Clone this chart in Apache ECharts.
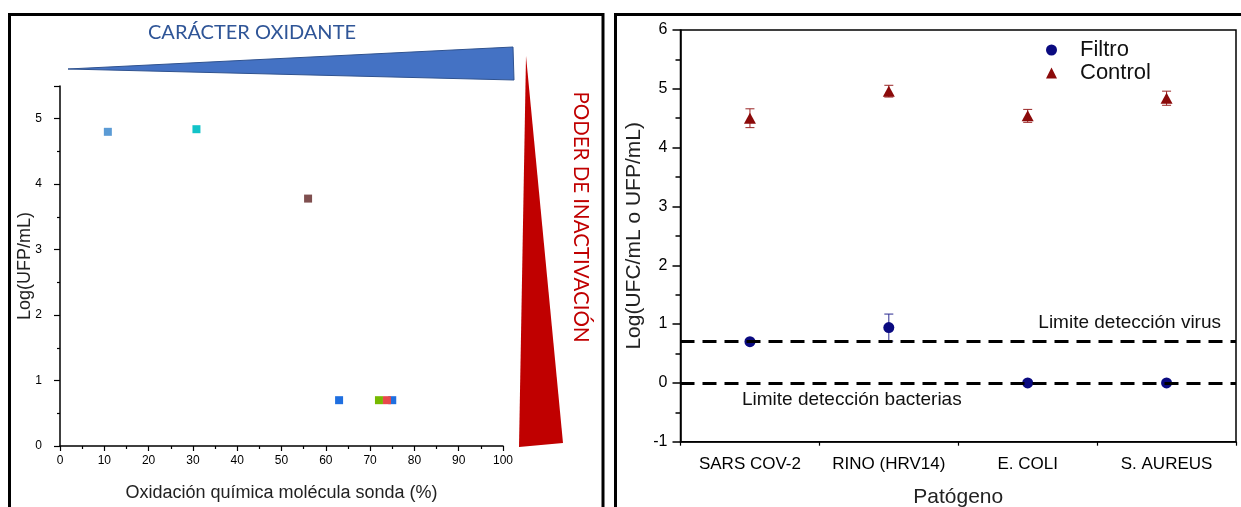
<!DOCTYPE html>
<html><head><meta charset="utf-8">
<script src="https://cdn.jsdelivr.net/npm/echarts@6/dist/echarts.min.js"></script>
<style>html,body{margin:0;padding:0;background:#fff}#c{width:1241px;height:507px}</style>
</head><body><div id="c"></div>
<script>
// ---- Left panel data ----
const leftX = [10.8, 30.8, 56.0, 75.0, 63.0, 72.0, 73.8];
const leftY = [4.80, 4.84, 3.78, 0.70, 0.70, 0.70, 0.70];
const leftColors = ['#5b9bd5', '#12c3c8', '#7f4f4f', '#1f6fe0', '#1f6fe0', '#76b900', '#e8484c'];
const leftXTicks = [0, 100, 10];
const leftYTicks = [0, 5.5, 1];

// ---- Right panel data ----
const categories = ['SARS COV-2', 'RINO (HRV14)', 'E. COLI', 'S. AUREUS'];
const filtroValues = [0.70, 0.94, 0.00, 0.00];
const filtroErrors = [0.00, 0.23, 0.00, 0.00];
const controlValues = [4.50, 4.96, 4.54, 4.84];
const controlErrors = [0.16, 0.10, 0.11, 0.12];
const limitVirus = 0.7;
const limitBacteria = 0;
const rightYTicks = [-1, 6, 1];

const F = '"Liberation Sans", Arial, sans-serif';
const chart = echarts.init(document.getElementById('c'));

function errItem(color) {
  return function (params, api) {
    const x = api.value(0), y = api.value(1), e = api.value(2);
    if (!e) return null;
    const t = api.coord([x, y + e]), b = api.coord([x, y - e]);
    const hw = 4.5;
    const st = { stroke: color, lineWidth: 1 };
    return { type: 'group', children: [
      { type: 'line', shape: { x1: t[0], y1: t[1], x2: b[0], y2: b[1] }, style: st },
      { type: 'line', shape: { x1: t[0] - hw, y1: t[1], x2: t[0] + hw, y2: t[1] }, style: st },
      { type: 'line', shape: { x1: b[0] - hw, y1: b[1], x2: b[0] + hw, y2: b[1] }, style: st }
    ]};
  };
}

const axisBase = {
  axisLine: { onZero: false, lineStyle: { color: '#000', width: 1.5 } },
  splitLine: { show: false },
  nameMoveOverlap: false
};

const option = {
  animation: false,
  grid: [
    { left: 60, top: 86, width: 443, height: 360, containLabel: false, outerBoundsMode: 'none' },
    { left: 680.5, top: 30, width: 555.5, height: 411.7, containLabel: false, outerBoundsMode: 'none',
      show: true, borderColor: '#000', borderWidth: 1.5 }
  ],
  xAxis: [
    Object.assign({}, axisBase, {
      gridIndex: 0, type: 'value', min: leftXTicks[0], max: leftXTicks[1], interval: leftXTicks[2], position: 'bottom',
      axisTick: { length: 5, lineStyle: { color: '#000', width: 1.2 } },
      minorTick: { show: true, splitNumber: 2, length: 3, lineStyle: { color: '#000', width: 1.2 } },
      axisLabel: { color: '#000', fontSize: 12, fontFamily: F, margin: 9 },
      name: 'Oxidación química molécula sonda (%)', nameLocation: 'middle', nameGap: 38,
      nameTextStyle: { fontSize: 18, color: '#222', fontFamily: F }
    }),
    Object.assign({}, axisBase, {
      gridIndex: 1, type: 'category', data: categories, boundaryGap: true, position: 'bottom',
      axisTick: { alignWithLabel: true, length: 6, lineStyle: { color: '#000', width: 1.2 } },
      axisLabel: { color: '#000', fontSize: 17, fontFamily: F, margin: 14, interval: 0 },
      name: 'Patógeno', nameLocation: 'middle', nameGap: 45,
      nameTextStyle: { fontSize: 21, color: '#222', fontFamily: F }
    }),
    Object.assign({}, axisBase, {
      gridIndex: 1, type: 'value', min: 0, max: categories.length, interval: 1, position: 'bottom',
      axisLine: { show: false, onZero: false },
      axisTick: { length: 4, lineStyle: { color: '#000', width: 1.2 } },
      axisLabel: { show: false }
    })
  ],
  yAxis: [
    Object.assign({}, axisBase, {
      gridIndex: 0, type: 'value', min: leftYTicks[0], max: leftYTicks[1], interval: leftYTicks[2],
      axisTick: { length: 6, lineStyle: { color: '#000', width: 1.2 } },
      minorTick: { show: true, splitNumber: 2, length: 3, lineStyle: { color: '#000', width: 1.2 } },
      axisLabel: { color: '#000', fontSize: 12, fontFamily: F, margin: 18, showMaxLabel: false },
      name: 'Log(UFP/mL)', nameLocation: 'middle', nameGap: 26,
      nameTextStyle: { fontSize: 18, color: '#222', fontFamily: F }
    }),
    Object.assign({}, axisBase, {
      gridIndex: 1, type: 'value', min: rightYTicks[0], max: rightYTicks[1], interval: rightYTicks[2],
      axisTick: { length: 8, lineStyle: { color: '#000', width: 1.5 } },
      minorTick: { show: true, splitNumber: 2, length: 5, lineStyle: { color: '#000', width: 1.5 } },
      axisLabel: { color: '#000', fontSize: 16, fontFamily: F, margin: 13 },
      name: 'Log(UFC/mL o UFP/mL)', nameLocation: 'middle', nameGap: 36,
      nameTextStyle: { fontSize: 21, color: '#222', fontFamily: F }
    })
  ],
  legend: {
    data: [{ name: 'Filtro', icon: 'circle' }, { name: 'Control', icon: 'triangle' }],
    orient: 'vertical', left: 1041, top: 34, itemWidth: 11, itemHeight: 11, itemGap: 1,
    textStyle: { fontSize: 22, fontFamily: F, color: '#111', padding: [0, 0, 0, 18] }
  },
  series: [
    {
      type: 'scatter', xAxisIndex: 0, yAxisIndex: 0, symbol: 'rect', symbolSize: 8, silent: true,
      data: leftX.map((x, i) => ({ value: [x, leftY[i]], itemStyle: { color: leftColors[i], opacity: 1 } }))
    },
    {
      type: 'custom', name: 'errF', xAxisIndex: 1, yAxisIndex: 1, z: 1,
      renderItem: errItem('#2a2a90'),
      data: categories.map((c, i) => [i, filtroValues[i], filtroErrors[i]])
    },
    {
      type: 'custom', name: 'errC', xAxisIndex: 1, yAxisIndex: 1, z: 1,
      renderItem: errItem('#9a2525'),
      data: categories.map((c, i) => [i, controlValues[i], controlErrors[i]])
    },
    {
      type: 'scatter', name: 'Filtro', xAxisIndex: 1, yAxisIndex: 1, symbol: 'circle', symbolSize: 11, z: 3,
      itemStyle: { color: '#0a0a80', opacity: 1 },
      data: filtroValues,
      markLine: {
        silent: true, symbol: ['none', 'none'], label: { show: false },
        lineStyle: { type: [14, 8], width: 3, color: '#000' },
        data: [{ yAxis: limitVirus }, { yAxis: limitBacteria }]
      }
    },
    {
      type: 'scatter', name: 'Control', xAxisIndex: 1, yAxisIndex: 1, symbol: 'triangle', symbolSize: [12, 11], z: 3,
      itemStyle: { color: '#8b0a0a', opacity: 1 },
      data: controlValues
    }
  ],
  graphic: [
    { type: 'rect', silent: true, shape: { x: 9.5, y: 14.5, width: 593.5, height: 600 }, style: { fill: 'none', stroke: '#000', lineWidth: 3 } },
    { type: 'rect', silent: true, shape: { x: 615.5, y: 14.5, width: 700, height: 600 }, style: { fill: 'none', stroke: '#000', lineWidth: 3 } },
    { type: 'polygon', silent: true, shape: { points: [[68, 69], [513, 47], [514, 80]] }, style: { fill: '#4472c4', stroke: '#2f528f', lineWidth: 1 } },
    { type: 'polygon', silent: true, shape: { points: [[526, 56], [519, 447], [563, 443]] }, style: { fill: '#c00000' } },
    { type: 'text', silent: true, x: 252, y: 33, style: { text: 'CARÁCTER OXIDANTE', font: '20px Lato, sans-serif', fill: '#2f5597', align: 'center', verticalAlign: 'middle' } },
    { type: 'text', silent: true, x: 581, y: 217, rotation: -Math.PI / 2, style: { text: 'PODER DE INACTIVACIÓN', font: '20.5px Lato, sans-serif', fill: '#c00000', align: 'center', verticalAlign: 'middle' } },
    { type: 'text', silent: true, x: 1221, y: 323, style: { text: 'Limite detección virus', font: '19px ' + F, fill: '#111', align: 'right', verticalAlign: 'middle' } },
    { type: 'text', silent: true, x: 742, y: 400, style: { text: 'Limite detección bacterias', font: '19px ' + F, fill: '#111', align: 'left', verticalAlign: 'middle' } }
  ]
};
chart.setOption(option);
</script>
</body></html>
